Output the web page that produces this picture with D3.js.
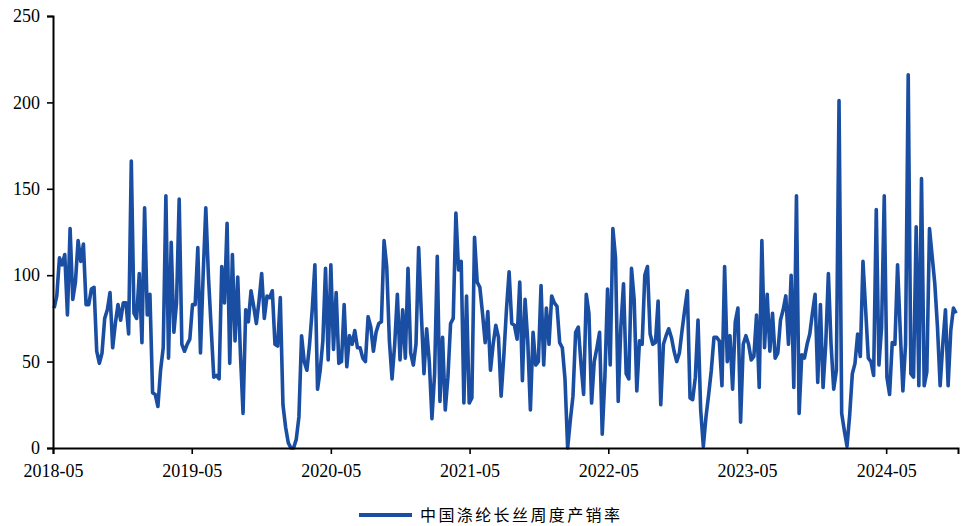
<!DOCTYPE html>
<html>
<head>
<meta charset="utf-8">
<script src="https://cdn.jsdelivr.net/npm/d3@7/dist/d3.min.js"></script>
<style>
html,body{margin:0;padding:0;background:#fff;}
svg{display:block;}
</style>
</head>
<body>
<svg id="chart" width="961" height="526"></svg>
<script>
const seriesName = "中国涤纶长丝周度产销率";
const startDate = "2018-05-04";
const tickLabels = ["2018-05","2019-05","2020-05","2021-05","2022-05","2023-05","2024-05"];
const yTicks = [0,50,100,150,200,250];

const seg1 = [81,88,110,106,112,77,127,86,96,120,108,118,83,83,92,93,56,49,55,75,80,90,58,72,83,74,84,84,66,166,78,75];
const seg2 = [101,61,139,77,89,32,31,24,45,58,146,52,119,67,84,144,60,56,60,63,83,83,116,55,100,139,99,70,41,42,40,105,84,130];
const seg3 = [49,112,62,99,55,20,80,73,91,82,72,85,101,75,88,87,91,60,59,87,25,12,3,0,0,5,18,65,50,45,60,80,106,34];
const seg4 = [45,62,104,51,106,57,90,49,50,83,47,65,60,68,58,58,52,50,76,70,56,67,72,73,120,105,62,40,60,89,51,80,52,104];
const seg5 = [55,48,60,116,78,43,69,50,17,43,111,27,64,22,41,72,75,136,103,108,26,88,26,29,122,96,93,78,61,79,45,60,71,64];
const seg6 = [30,53,80,102,72,71,63,96,39,86,62,22,67,48,50,94,48,81,60,88,84,82,61,58,40,0,16,30,67,70,49,31,89,78];
const seg7 = [26,50,58,67,8,41,92,48,127,110,27,70,95,43,40,104,86,33,62,60,100,105,66,60,61,85,25,60,65,69,64,56,50,55];
const seg8 = [68,80,91,29,28,41,74,22,1,18,31,45,64,64,62,36,105,50,65,34,73,81,15,60,65,60,51,53,77,35,120,58,89,56];
const seg9 = [78,52,55,74,80,88,60,100,35,146,20,54,52,60,66,78,89,38,83,35,60,101,60,34,45,201,20,10,1,19,43,49,66,53];
const seg10 = [108,80,52,50,42,138,48,70,146,41,31,61,60,106,68,33,60,216,43,41,128,36,156,36,44,127,111,95,70,36,60,80,36,68,81,78];

const values = [].concat(seg1,seg2,seg3,seg4,seg5,seg6,seg7,seg8,seg9,seg10);

const parse = d3.timeParse("%Y-%m-%d");
const t0 = parse(startDate);
const data = values.map((v,i)=>({date:d3.timeDay.offset(t0,i*7), value:v}));

const svg = d3.select("#chart");
const x = d3.scaleTime()
  .domain([parse("2018-05-01"), parse("2024-11-06")])
  .range([53, 958]);
const y = d3.scaleLinear().domain([0,250]).range([448,16]);

const tickDates = tickLabels.map(s=>d3.timeParse("%Y-%m")(s));

const fontSerif = "'Liberation Serif','Times New Roman',serif";

// line
svg.append("path")
  .datum(data)
  .attr("fill","none")
  .attr("stroke","#1a4ea2")
  .attr("stroke-width",3.6)
  .attr("stroke-linejoin","round")
  .attr("d", d3.line().x(d=>x(d.date)).y(d=>y(d.value)));

// y axis
const yAxis = svg.append("g")
  .attr("transform","translate(53,0)")
  .call(d3.axisLeft(y).tickValues(yTicks).tickSize(6).tickPadding(7).tickFormat(d3.format("d")));
// x axis
const xAxis = svg.append("g")
  .attr("transform","translate(0,448)")
  .call(d3.axisBottom(x).tickValues(tickDates).tickSize(6).tickPadding(10).tickFormat(d3.timeFormat("%Y-%m")));

[yAxis,xAxis].forEach(g=>{
  g.select(".domain").attr("stroke","#000").attr("stroke-width",2);
  g.selectAll(".tick line").attr("stroke","#000").attr("stroke-width",1.6);
  g.selectAll("text").attr("fill","#000").style("font-family",fontSerif).style("font-size","18px");
});

// legend
const lg = svg.append("g").attr("transform","translate(0,515)");
lg.append("line").attr("x1",359).attr("x2",412).attr("y1",0).attr("y2",0)
  .attr("stroke","#1a4ea2").attr("stroke-width",4);
lg.append("text").attr("x",420).attr("y",0).attr("dy","0.35em")
  .style("font-family","'Noto Sans CJK SC',sans-serif").style("font-size","16px")
  .style("letter-spacing","2.4px")
  .attr("fill","#000").text(seriesName);
</script>
</body>
</html>
